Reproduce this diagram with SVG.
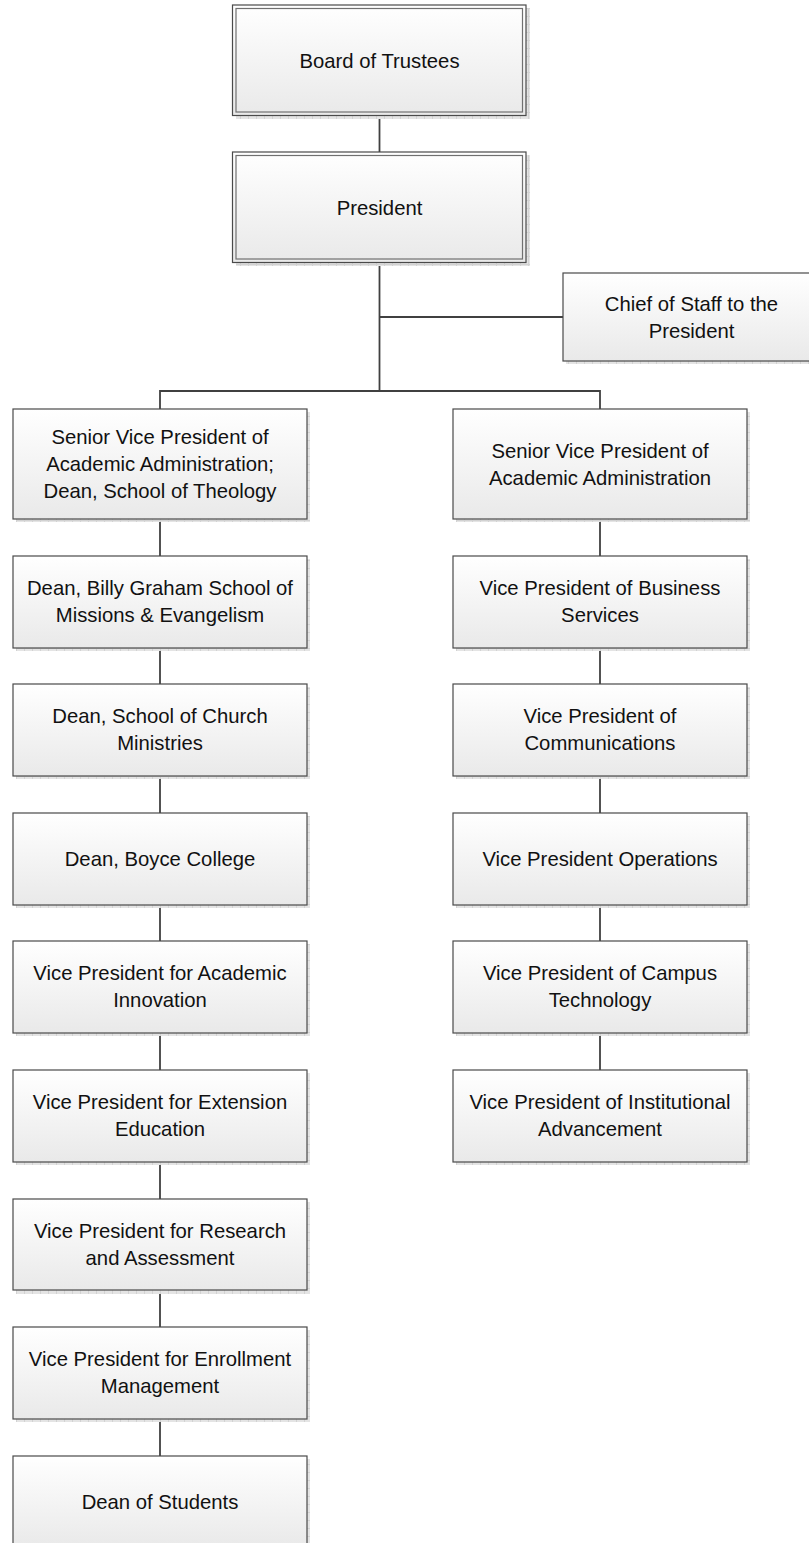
<svg xmlns="http://www.w3.org/2000/svg" width="809" height="1543" viewBox="0 0 809 1543">
<defs>
<linearGradient id="g" x1="0" y1="0" x2="0" y2="1">
<stop offset="0" stop-color="#ffffff"/>
<stop offset="1" stop-color="#e9e9e9"/>
</linearGradient>
<pattern id="sh" width="8" height="8" patternUnits="userSpaceOnUse">
<rect width="8" height="8" fill="#e4e4e4"/>
<path d="M0 0.5H8M0.5 0V8" stroke="#d2d2d2" stroke-width="1"/>
</pattern>
</defs>
<style>
.shadow{fill:url(#sh);}
.box{fill:url(#g);stroke:#4a4a4a;stroke-width:1.2;}
.inner{fill:none;stroke:#707070;stroke-width:1.2;}
.conn{stroke:#404040;stroke-width:1.8;fill:none;}
text{font-family:"Liberation Sans",Arial,sans-serif;font-size:20.3px;fill:#111;text-anchor:middle;}
</style>
<rect width="809" height="1543" fill="#ffffff"/>
<g id="connectors">
<path class="conn" d="M379.5 116V152"/>
<path class="conn" d="M379.5 262V391"/>
<path class="conn" d="M379.5 317H563"/>
<path class="conn" d="M160 391H600M160 390.1V409M600 390.1V409"/>
<path class="conn" d="M160 519V556M160 648V684M160 776V813M160 905V941M160 1033V1070M160 1162V1199M160 1290V1327M160 1419V1456"/>
<path class="conn" d="M600 519V556M600 648V684M600 776V813M600 905V941M600 1033V1070"/>
</g>
<g id="board">
<rect class="shadow" x="236" y="8" width="294" height="111"/>
<rect class="box" x="232.5" y="5" width="293.5" height="110.5"/>
<rect class="inner" x="236" y="8.5" width="286.5" height="103.5"/>
<text x="379.5" y="67.5">Board of Trustees</text>
</g>
<g id="president">
<rect class="shadow" x="236" y="155" width="294" height="111"/>
<rect class="box" x="232.5" y="152" width="293.5" height="110.5"/>
<rect class="inner" x="236" y="155.5" width="286.5" height="103.5"/>
<text x="379.5" y="214.5">President</text>
</g>
<g id="chief">
<rect class="shadow" x="566" y="276" width="260" height="88"/>
<rect class="box" x="563" y="273" width="257" height="88"/>
<text x="691.5" y="310.5">Chief of Staff to the</text>
<text x="691.5" y="337.5">President</text>
</g>
<g id="l1">
<rect class="shadow" x="16" y="412" width="294" height="110"/>
<rect class="box" x="13" y="409" width="294" height="110"/>
<text x="160" y="444">Senior Vice President of</text>
<text x="160" y="471">Academic Administration;</text>
<text x="160" y="498">Dean, School of Theology</text>
</g>
<g id="l2">
<rect class="shadow" x="16" y="559" width="294" height="92"/>
<rect class="box" x="13" y="556" width="294" height="92"/>
<text x="160" y="595">Dean, Billy Graham School of</text>
<text x="160" y="622">Missions &amp; Evangelism</text>
</g>
<g id="l3">
<rect class="shadow" x="16" y="687" width="294" height="92"/>
<rect class="box" x="13" y="684" width="294" height="92"/>
<text x="160" y="723">Dean, School of Church</text>
<text x="160" y="750">Ministries</text>
</g>
<g id="l4">
<rect class="shadow" x="16" y="816" width="294" height="92"/>
<rect class="box" x="13" y="813" width="294" height="92"/>
<text x="160" y="866">Dean, Boyce College</text>
</g>
<g id="l5">
<rect class="shadow" x="16" y="944" width="294" height="92"/>
<rect class="box" x="13" y="941" width="294" height="92"/>
<text x="160" y="980">Vice President for Academic</text>
<text x="160" y="1007">Innovation</text>
</g>
<g id="l6">
<rect class="shadow" x="16" y="1073" width="294" height="92"/>
<rect class="box" x="13" y="1070" width="294" height="92"/>
<text x="160" y="1109">Vice President for Extension</text>
<text x="160" y="1136">Education</text>
</g>
<g id="l7">
<rect class="shadow" x="16" y="1202" width="294" height="92"/>
<rect class="box" x="13" y="1199" width="294" height="91"/>
<text x="160" y="1237.5">Vice President for Research</text>
<text x="160" y="1264.5">and Assessment</text>
</g>
<g id="l8">
<rect class="shadow" x="16" y="1330" width="294" height="92"/>
<rect class="box" x="13" y="1327" width="294" height="92"/>
<text x="160" y="1366">Vice President for Enrollment</text>
<text x="160" y="1393">Management</text>
</g>
<g id="l9">
<rect class="shadow" x="16" y="1459" width="294" height="92"/>
<rect class="box" x="13" y="1456" width="294" height="92"/>
<text x="160" y="1509">Dean of Students</text>
</g>
<g id="r1">
<rect class="shadow" x="456" y="412" width="294" height="110"/>
<rect class="box" x="453" y="409" width="294" height="110"/>
<text x="600" y="457.5">Senior Vice President of</text>
<text x="600" y="484.5">Academic Administration</text>
</g>
<g id="r2">
<rect class="shadow" x="456" y="559" width="294" height="92"/>
<rect class="box" x="453" y="556" width="294" height="92"/>
<text x="600" y="595">Vice President of Business</text>
<text x="600" y="622">Services</text>
</g>
<g id="r3">
<rect class="shadow" x="456" y="687" width="294" height="92"/>
<rect class="box" x="453" y="684" width="294" height="92"/>
<text x="600" y="723">Vice President of</text>
<text x="600" y="750">Communications</text>
</g>
<g id="r4">
<rect class="shadow" x="456" y="816" width="294" height="92"/>
<rect class="box" x="453" y="813" width="294" height="92"/>
<text x="600" y="866">Vice President Operations</text>
</g>
<g id="r5">
<rect class="shadow" x="456" y="944" width="294" height="92"/>
<rect class="box" x="453" y="941" width="294" height="92"/>
<text x="600" y="980">Vice President of Campus</text>
<text x="600" y="1007">Technology</text>
</g>
<g id="r6">
<rect class="shadow" x="456" y="1073" width="294" height="92"/>
<rect class="box" x="453" y="1070" width="294" height="92"/>
<text x="600" y="1109">Vice President of Institutional</text>
<text x="600" y="1136">Advancement</text>
</g>
</svg>
